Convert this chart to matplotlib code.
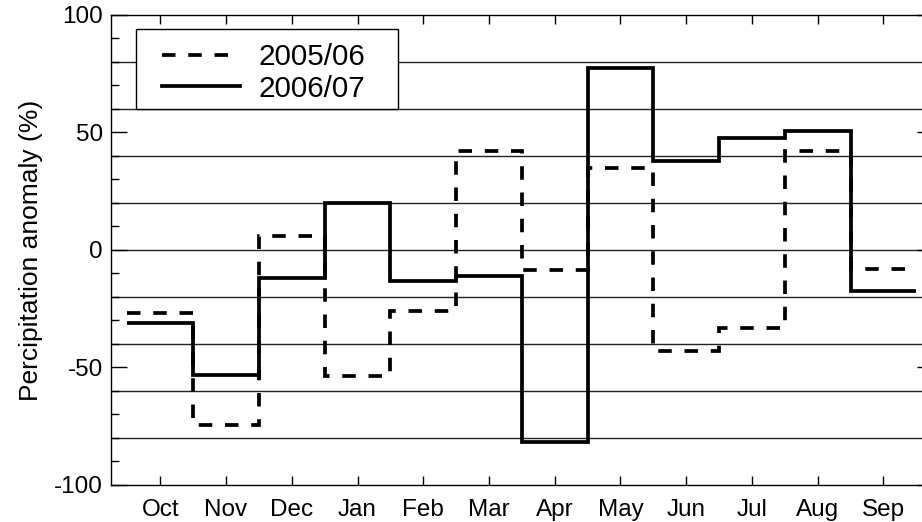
import numpy as np
import matplotlib
matplotlib.use("Agg")
import matplotlib.pyplot as plt
from matplotlib.ticker import MultipleLocator
from matplotlib.patches import Rectangle

plt.rcParams['font.family'] = ['Liberation Sans', 'DejaVu Sans']
plt.rcParams['axes.unicode_minus'] = False

months = ['Oct', 'Nov', 'Dec', 'Jan', 'Feb', 'Mar', 'Apr', 'May', 'Jun', 'Jul', 'Aug', 'Sep']
anom_0506 = [-27, -74.5, 6, -53.5, -26, 42.3, -8.5, 35, -43, -33, 42, -8]
anom_0607 = [-31, -53, -12, 20, -13, -11, -81.5, 77.5, 38, 47.5, 50.5, -17.5]
grid_levels = [-80, -60, -40, -20, 0, 20, 40, 60, 80]

fig = plt.figure(figsize=(9.22, 5.22), dpi=100)
ax = fig.add_axes([0.1204, 0.0709, 0.8912, 0.9004])

x = np.arange(1, len(months) + 1)
edges = np.append(x - 0.5, x[-1] + 0.5)

for g in grid_levels:
    ax.axhline(g, color='#222222', lw=1.0, zorder=1)

ax.stairs(anom_0506, edges, baseline=None, color='black', lw=2.7,
          linestyle=(0, (3.6, 3.4)), label='2005/06', zorder=3)
ax.stairs(anom_0607, edges, baseline=None, color='black', lw=2.7,
          label='2006/07', zorder=4)

ax.set_xlim(0.25, 12.75)
ax.set_ylim(-100, 100)
ax.set_xticks(x)
ax.set_xticklabels(months)
ax.set_yticks([-100, -50, 0, 50, 100])
ax.yaxis.set_minor_locator(MultipleLocator(10))

ax.tick_params(axis='both', which='both', direction='in', top=True, right=True,
               labelsize=17.5, color='black')
ax.tick_params(axis='x', which='major', length=6.5, width=1, pad=10)
ax.tick_params(axis='y', which='major', length=11.5, width=1, pad=6)
ax.tick_params(axis='y', which='minor', length=5.8, width=1)
ax.tick_params(axis='x', which='minor', bottom=False, top=False)

for s in ax.spines.values():
    s.set_linewidth(1.0)

ax.set_ylabel('Percipitation anomaly (%)', fontsize=19, labelpad=8)

# legend frame drawn by hand so the inner padding matches the original
frame = Rectangle((0.0304, 0.800), 0.3189, 0.1702, transform=ax.transAxes,
                  facecolor='white', edgecolor='black', lw=1.0, zorder=5)
ax.add_patch(frame)
leg = ax.legend(loc='upper left', bbox_to_anchor=(0.062, 0.940), borderaxespad=0,
                fontsize=21.3, handlelength=2.65, handletextpad=0.6, borderpad=0,
                labelspacing=0.12, frameon=False)
leg.set_zorder(6)

fig.savefig('out.png', dpi=100)
